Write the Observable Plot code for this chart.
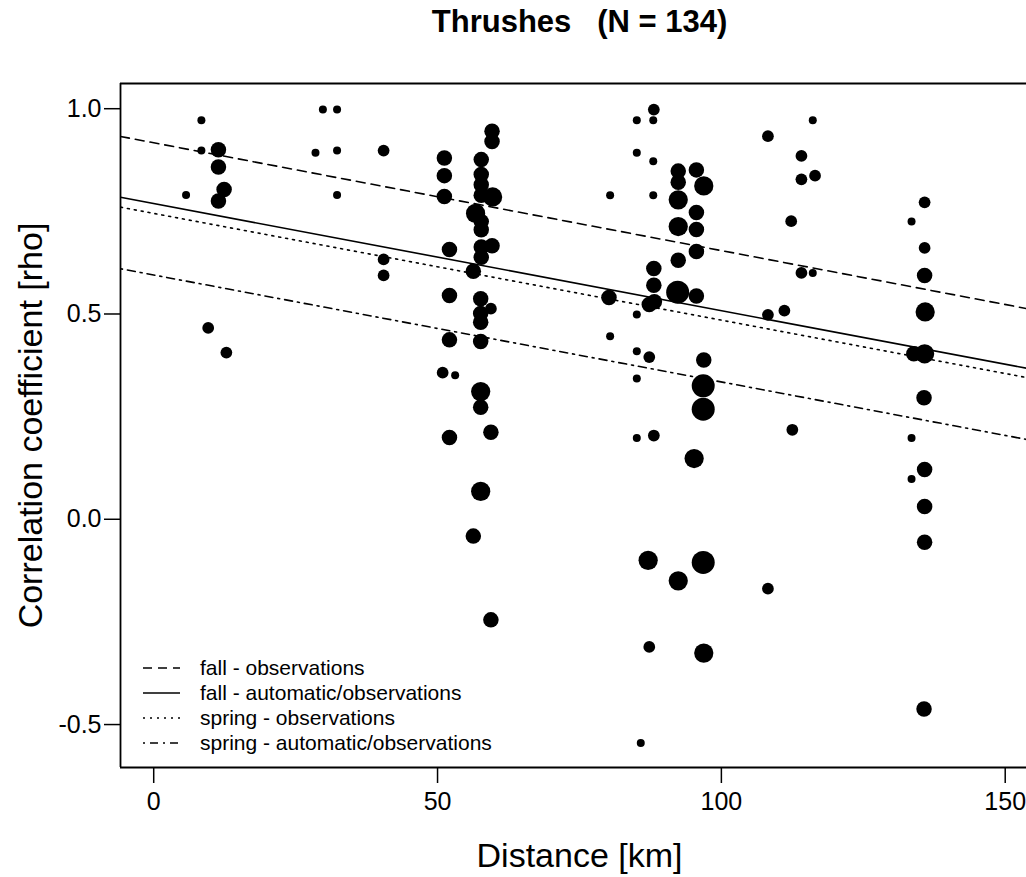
<!DOCTYPE html>
<html><head><meta charset="utf-8">
<script src="https://cdn.jsdelivr.net/npm/d3@7"></script>
<script src="https://cdn.jsdelivr.net/npm/@observablehq/plot@0.6"></script>
<style>
html,body{margin:0;padding:0;background:#fff;}
svg text{white-space:pre;}
</style></head><body><div id="chart"></div>
<script>
// ---- data ----
const titleText = "Thrushes   (N = 134)";
const xLabel = "Distance [km]";
const yLabel = "Correlation coefficient [rho]";
const xTicks = [0, 50, 100, 150];
const yTicks = [-0.5, 0, 0.5, 1.0];
const xLimits = [-5.85, 153.75];
const yLimits = [-0.6046, 1.0614];

const distanceKm = [
  8.4, 8.4, 11.4, 11.4, 12.4, 11.4, 5.7, 29.8, 32.3, 28.5, 32.3, 32.3, 40.5, 40.5, 40.5, 9.6, 12.8,
  51.2, 51.2, 51.2, 52.1, 52.1, 52.1, 52.1, 50.9, 53.1,
  59.6, 59.6, 59.7, 59.6, 59.4, 59.4, 59.4,
  57.7, 57.7, 57.7, 57.7, 56.7, 57.7, 57.7, 57.7, 57.7, 57.6, 57.6, 57.6, 57.6, 57.6, 57.6, 57.6, 56.3, 56.3,
  80.4, 80.2, 80.4,
  85.1, 85.1, 85.1, 85.1, 85.1, 85.1, 85.8,
  88.1, 88.0, 88.0, 88.0, 88.1, 88.1, 88.2, 88.1,
  87.3, 87.3, 87.1, 87.3,
  92.4, 92.4, 92.4, 92.4, 92.4, 92.3, 92.4,
  95.6, 95.6, 95.6, 95.6, 95.6, 95.2,
  96.9, 96.9, 96.8, 96.8, 96.8, 96.9,
  108.2, 108.2, 108.2, 111.1, 112.3, 112.5, 114.1, 114.1, 114.1, 116.1, 116.1, 116.5,
  133.5, 133.5, 133.5, 133.9, 135.8, 135.8, 135.8, 135.9, 135.8, 135.7, 135.8, 135.8, 135.8, 135.7
];
const rho = [
  0.972, 0.898, 0.900, 0.858, 0.803, 0.775, 0.790, 0.998, 0.998, 0.893, 0.898, 0.790, 0.898, 0.633, 0.594, 0.466, 0.406,
  0.880, 0.837, 0.786, 0.657, 0.545, 0.437, 0.199, 0.357, 0.351,
  0.945, 0.920, 0.785, 0.666, 0.513, 0.212, -0.245,
  0.876, 0.840, 0.815, 0.789, 0.745, 0.725, 0.705, 0.663, 0.638, 0.537, 0.501, 0.480, 0.433, 0.311, 0.273, 0.068, 0.604, -0.041,
  0.789, 0.540, 0.446,
  0.972, 0.893, 0.499, 0.409, 0.343, 0.198, -0.545,
  0.998, 0.972, 0.872, 0.789, 0.611, 0.570, 0.530, 0.204,
  0.523, 0.395, -0.100, -0.311,
  0.848, 0.821, 0.778, 0.713, 0.631, 0.553, -0.150,
  0.851, 0.747, 0.706, 0.652, 0.544, 0.148,
  0.812, 0.388, 0.325, 0.268, -0.105, -0.326,
  0.933, 0.498, -0.169, 0.508, 0.726, 0.218, 0.885, 0.828, 0.600, 0.972, 0.600, 0.837,
  0.725, 0.198, 0.098, 0.403, 0.772, 0.661, 0.594, 0.505, 0.403, 0.296, 0.121, 0.031, -0.056, -0.462
];
// relative sample-size class of each comparison (1 = smallest)
const sizeClass = [
  1, 1, 3, 3, 3, 3, 1, 1, 1, 1, 1, 1, 2, 2, 2, 2, 2,
  3, 3, 3, 3, 3, 3, 3, 2, 1,
  3, 3, 4, 3, 2, 3, 3,
  3, 3, 3, 3, 4, 3, 3, 3, 3, 3, 3, 3, 3, 4, 3, 4, 3, 3,
  1, 3, 1,
  1, 1, 1, 1, 1, 1, 1,
  2, 1, 1, 1, 3, 3, 3, 2,
  3, 2, 4, 2,
  3, 3, 4, 4, 3, 5, 4,
  3, 3, 3, 3, 3, 4,
  4, 3, 5, 5, 5, 4,
  2, 2, 2, 2, 2, 2, 2, 2, 2, 1, 1, 2,
  1, 1, 1, 3, 2, 2, 3, 4, 4, 3, 3, 3, 3, 3
];

const fitNames = ["fall - observations", "fall - automatic/observations", "spring - observations", "spring - automatic/observations"];
const fitIntercepts = [0.917, 0.769, 0.745, 0.595];
const fitSlopes = [-0.002626, -0.002609, -0.00260, -0.002605];

// ---- build ----
const dashes = ["9,6", null, "2,5", "2,5,8,5"];
const points = distanceKm.map((d, i) => ({distance: d, rho: rho[i], size: sizeClass[i]}));
const fits = fitNames.map((name, i) => xLimits.map(x => ({name, x, y: fitIntercepts[i] + fitSlopes[i] * x})));

const plot = Plot.plot({
  width: 1026, height: 877,
  marginLeft: 120, marginRight: 0, marginTop: 83, marginBottom: 110,
  style: {fontFamily: "'Liberation Sans', Arial, sans-serif", background: "#fff", color: "#000", overflow: "visible"},
  x: {domain: xLimits},
  y: {domain: yLimits},
  r: {type: "linear", domain: [1, 5], range: [4, 11.5]},
  marks: [
    Plot.dot(points, {x: "distance", y: "rho", r: "size", fill: "#000", stroke: "none"}),
    ...fits.map((f, i) => Plot.line(f, {x: "x", y: "y", stroke: "#000", strokeWidth: 1.6, strokeDasharray: dashes[i], clip: true})),
    Plot.ruleX([xLimits[0]], {stroke: "#000", strokeWidth: 1.8}),
    Plot.ruleY(yLimits, {stroke: "#000", strokeWidth: 1.8}),
    Plot.axisX(xTicks, {tickSize: 16, tickPadding: 9, fontSize: 25, label: null, strokeWidth: 1.5}),
    Plot.axisY(yTicks, {tickSize: 16, tickPadding: 3, fontSize: 25, label: null, strokeWidth: 1.5, tickFormat: d => d.toFixed(1)}),
    Plot.text([titleText], {frameAnchor: "top", lineAnchor: "middle", dx: 6, dy: -61, fontSize: 31, fontWeight: "bold"}),
    Plot.text([xLabel], {frameAnchor: "bottom", lineAnchor: "middle", dx: 6, dy: 89, fontSize: 34}),
    Plot.text([yLabel], {frameAnchor: "left", textAnchor: "middle", lineAnchor: "middle", dx: -89, rotate: -90, fontSize: 34})
  ]
});
document.getElementById("chart").appendChild(plot);

// legend (inside the plot, bottom-left)
const svg = d3.select(plot);
const lg = svg.append("g").attr("font-family", "'Liberation Sans', Arial, sans-serif")
  .attr("font-size", 21).attr("text-anchor", "start").attr("fill", "#000");
fitNames.forEach((name, i) => {
  const y = 668 + i * 25;
  lg.append("line").attr("x1", 143).attr("x2", 180).attr("y1", y).attr("y2", y)
    .attr("stroke", "#000").attr("stroke-width", 1.5).attr("stroke-dasharray", dashes[i]);
  lg.append("text").attr("x", 200).attr("y", y).attr("dy", "0.35em").text(name);
});
</script></body></html>
